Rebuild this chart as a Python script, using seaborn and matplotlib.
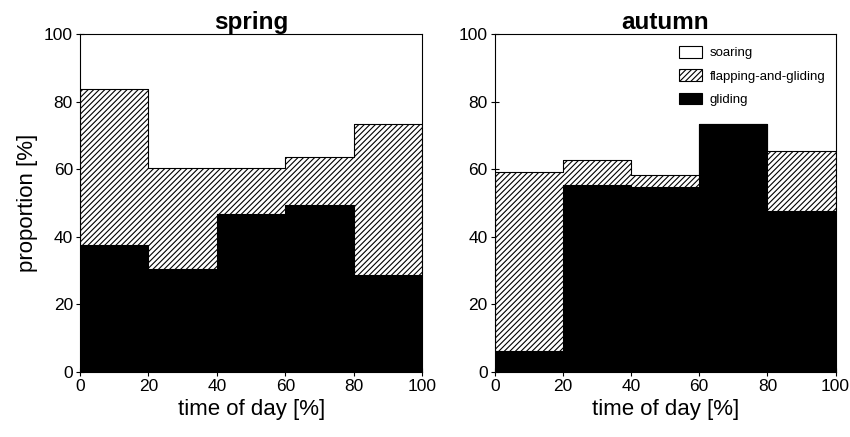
import matplotlib
matplotlib.use("Agg")
import matplotlib.pyplot as plt
from matplotlib.patches import Patch
import seaborn as sns

# bin edges of time of day [%]
bin_edges = [0, 20, 40, 60, 80, 100]
bin_mids = [10, 30, 50, 70, 90]

# proportions [%] per bin
spring_gliding = [37.5, 30.6, 46.6, 49.3, 28.6]
spring_flap_total = [83.6, 60.4, 60.4, 63.7, 73.5]  # gliding + flapping-and-gliding
autumn_gliding = [6.1, 55.3, 54.6, 73.3, 47.7]
autumn_flap_total = [59.2, 62.7, 58.2, 73.3, 65.4]

seasons = ["spring", "autumn"]
yticks = [0, 20, 40, 60, 80, 100]

sns.set_theme(style="ticks")
plt.rcParams['font.family'] = ['Liberation Sans', 'DejaVu Sans']
plt.rcParams['text.color'] = 'black'
plt.rcParams['axes.labelcolor'] = 'black'
plt.rcParams['hatch.linewidth'] = 0.8

fig = plt.figure(figsize=(8.5, 4.37), dpi=100)
axes = [fig.add_axes([0.094, 0.149, 0.403, 0.773]),
        fig.add_axes([0.582, 0.149, 0.401, 0.773])]

data = {
    "spring": (spring_gliding, spring_flap_total),
    "autumn": (autumn_gliding, autumn_flap_total),
}

for ax, season in zip(axes, seasons):
    gliding, flap_total = data[season]
    # flapping-and-gliding layer (hatched), drawn up to the cumulative total
    sns.histplot(x=bin_mids, weights=flap_total, bins=bin_edges, ax=ax,
                 stat="count", element="step", fill=True,
                 facecolor="white", edgecolor="black", linewidth=0.8,
                 hatch="//////", alpha=1)
    # gliding layer (black)
    sns.histplot(x=bin_mids, weights=gliding, bins=bin_edges, ax=ax,
                 stat="count", element="step", fill=True,
                 facecolor="black", edgecolor="black", linewidth=0.8,
                 alpha=1)
    ax.set_xlim(0, 100)
    ax.set_ylim(0, 100)
    ax.set_xticks(yticks)
    ax.set_yticks(yticks)
    ax.tick_params(direction="inout", length=6, width=0.8, labelsize=12.5,
                   colors="black", pad=2)
    for sp in ax.spines.values():
        sp.set_visible(True)
        sp.set_color("black")
        sp.set_linewidth(0.8)
    ax.set_title(season, fontsize=17.5, fontweight="bold", pad=2, color="black")
    ax.set_xlabel("time of day [%]", fontsize=16, labelpad=4)
    ax.set_ylabel("")

axes[0].set_ylabel("proportion [%]", fontsize=16, labelpad=4)

handles = [Patch(facecolor="white", edgecolor="black", linewidth=0.8, label="soaring"),
           Patch(facecolor="white", edgecolor="black", linewidth=0.8, hatch="//////",
                 label="flapping-and-gliding"),
           Patch(facecolor="black", edgecolor="black", linewidth=0.8, label="gliding")]
axes[1].legend(handles=handles, loc="upper right", frameon=False, fontsize=9.5,
               handlelength=1.75, handleheight=1.0, handletextpad=0.6,
               labelspacing=0.75, borderaxespad=0.0, borderpad=0.0,
               bbox_to_anchor=(0.971, 0.965))

fig.savefig("out.png", dpi=100)
